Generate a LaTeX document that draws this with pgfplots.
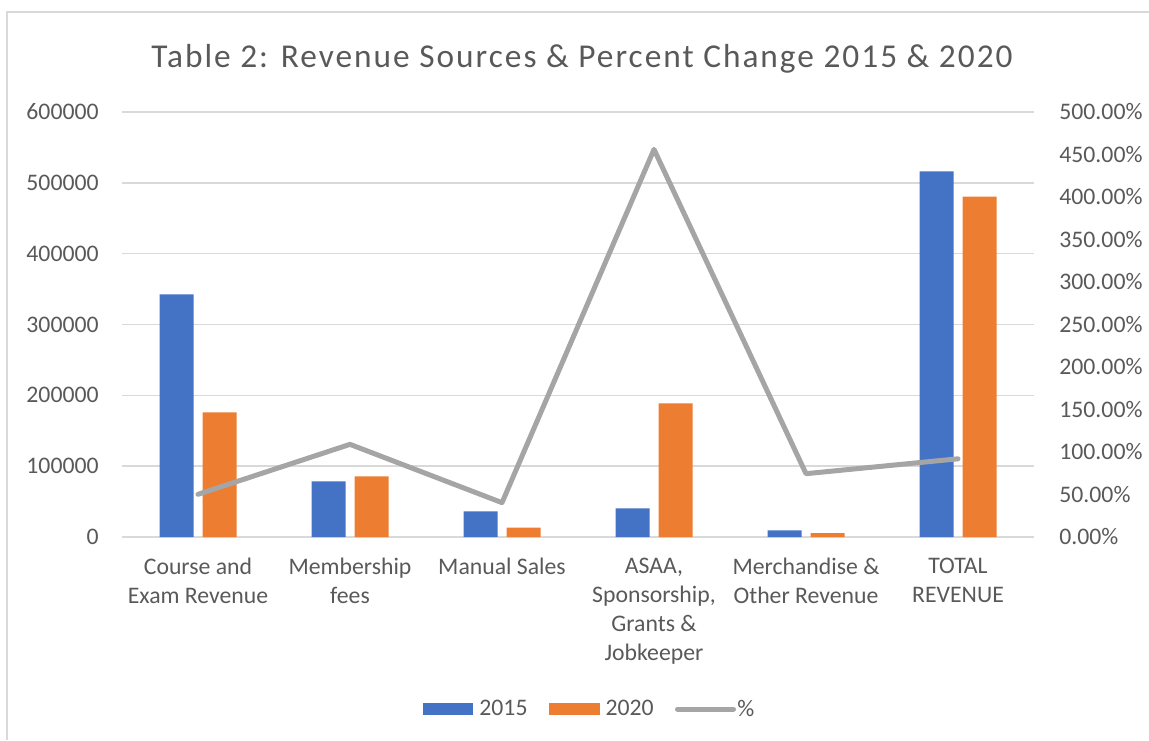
\documentclass[border=0pt]{standalone}
\usepackage{pgfplots}
\pgfplotsset{compat=1.18}
\usepackage{fontspec}
\setmainfont{Carlito}
\newfontfamily\titlefont[LetterSpace=6]{Carlito}
\definecolor{c2015}{HTML}{4472C4}
\definecolor{c2020}{HTML}{ED7D31}
\definecolor{cpct}{HTML}{A5A5A5}
\definecolor{txt}{HTML}{595959}
\definecolor{gridc}{HTML}{D9D9D9}

\begin{document}
\begin{tikzpicture}
\path[use as bounding box] (0,0) rectangle (861.75pt,555pt);
\draw[gridc, line width=1.5pt] (5.6pt,0) -- (5.6pt,546pt) -- (861.75pt,546pt);

\pgfplotsset{
  basestyle/.style={
    scale only axis,
    width=684pt, height=318.75pt,
    at={(91.5pt,152.25pt)}, anchor=south west,
    xmin=-0.5, xmax=5.5,
    axis line style={draw=none},
    major tick length=0pt,
    tick label style={font=\fontsize{17.8}{21.75}\selectfont, text=txt},
    /pgf/number format/assume math mode=true,
  }
}

\begin{axis}[
  basestyle,
  ymin=0, ymax=600000,
  ytick={0,100000,...,600000},
  scaled y ticks=false,
  /pgf/number format/fixed,
  /pgf/number format/1000 sep={},
  yticklabel style={xshift=-14pt},
  ymajorgrids,
  grid style={gridc, line width=1.1pt},
  xtick={0,1,2,3,4,5},
  xticklabels={Course and\\Exam Revenue, Membership\\fees, Manual Sales, {ASAA,\\Sponsorship,\\Grants \&\\Jobkeeper}, Merchandise \&\\Other Revenue, TOTAL\\REVENUE},
  xticklabel style={align=center, yshift=-12.5pt},
  ybar=6.75pt, bar width=25.5pt,
  legend columns=3,
  legend style={draw=none, fill=none, at={(0.513,-0.405)}, anchor=center,
    font=\fontsize{17.8}{20}\selectfont, text=txt,
    /tikz/every odd column/.append style={column sep=2.5pt},
    /tikz/every even column/.append style={column sep=14pt}},
  legend image code/.code={\fill[#1] (0pt,-4.5pt) rectangle (38pt,4.5pt);},
]
\addplot[fill=c2015, draw=none] coordinates {(0,342700) (1,78600) (2,36300) (3,40500) (4,9400) (5,516300)};
\addlegendentry{2015}
\addplot[fill=c2020, draw=none] coordinates {(0,176000) (1,85700) (2,13200) (3,188700) (4,5600) (5,480500)};
\addlegendentry{2020}
\addlegendimage{legend image code/.code={\draw[cpct, line width=3.75pt, line cap=round] (0pt,0pt) -- (42pt,0pt);}}
\addlegendentry{\hspace{-3.5pt}\%}
\end{axis}

\begin{axis}[
  basestyle,
  ymin=0, ymax=500,
  axis y line*=right,
  axis x line=none,
  ytick={0,50,...,500},
  yticklabel={\pgfmathprintnumber[fixed, fixed zerofill, precision=2]{\tick}\%},
  yticklabel style={xshift=15.5pt},
]
\addplot[cpct, line width=3.75pt, line join=round, line cap=round] coordinates {(0,50.2) (1,109) (2,40.4) (3,456) (4,74.5) (5,92)};
\end{axis}

\node[anchor=base, text=txt, font=\fontsize{25}{29}\titlefont] at (436.5pt,504pt) {Table 2: Revenue Sources \& Percent Change 2015 \& 2020};
\end{tikzpicture}
\end{document}
